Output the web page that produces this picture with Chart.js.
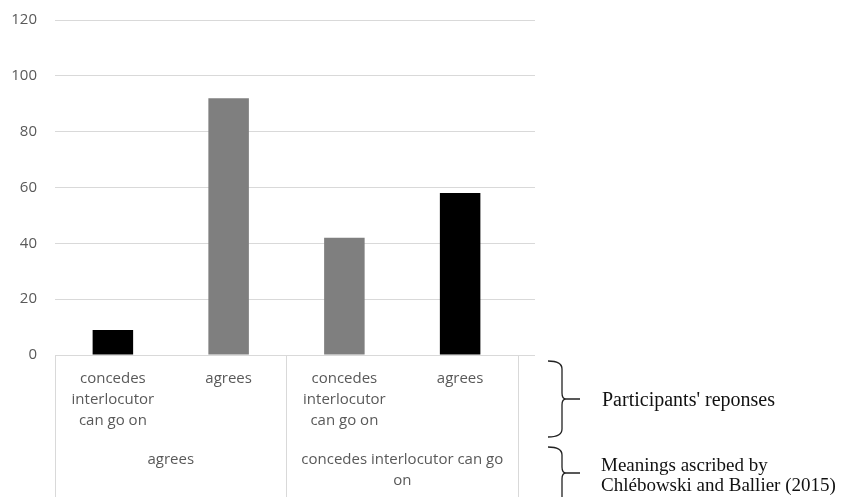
<!DOCTYPE html>
<html>
<head>
<meta charset="utf-8">
<script src="https://cdn.jsdelivr.net/npm/chart.js@4/dist/chart.umd.min.js"></script>
<style>
  html, body { margin: 0; padding: 0; background: #fff; }
  #wrap { width: 841px; height: 497px; position: relative; }
</style>
</head>
<body>
<div id="wrap"><canvas id="chart"></canvas></div>
<script>
// participants' responses (first axis level) and meanings (second level)
const responses = [
  ['concedes', 'interlocutor', 'can go on'],
  ['agrees'],
  ['concedes', 'interlocutor', 'can go on'],
  ['agrees']
];
const meanings = [
  ['agrees'],
  ['concedes interlocutor can go', 'on']
];
const values = [9, 92, 42, 58];
const barColors = ['#000000', '#7f7f7f', '#7f7f7f', '#000000'];
const yTicks = [0, 20, 40, 60, 80, 100, 120];

const gridColor = '#d9d9d9';
const labelColor = '#595959';
const sansFont = { family: '"Open Sans", sans-serif', size: 15, lineHeight: 1.4 };

const align = px => Math.round(px - 0.5) + 0.5;

// draws the category separators, extended gridlines and the braces on the right
const extras = {
  id: 'extras',
  afterDraw(chart) {
    const ctx = chart.ctx;
    const x = chart.scales.x;
    const y = chart.scales.y;
    const area = chart.chartArea;
    const step = x.getPixelForValue(1) - x.getPixelForValue(0);

    ctx.save();
    ctx.strokeStyle = gridColor;
    ctx.lineWidth = 1;
    // gridlines run a little past the last category
    yTicks.forEach(v => {
      const py = align(y.getPixelForValue(v));
      ctx.beginPath();
      ctx.moveTo(area.right, py);
      ctx.lineTo(area.right + 17, py);
      ctx.stroke();
    });
    // separators between the meaning groups
    [0, 2, 4].forEach(i => {
      const px = align(x.getPixelForValue(i) - step / 2);
      ctx.beginPath();
      ctx.moveTo(px, area.bottom);
      ctx.lineTo(px, chart.height);
      ctx.stroke();
    });

    // braces
    ctx.strokeStyle = '#222';
    ctx.lineWidth = 1.3;
    const brace = (top, mid, bottom) => {
      const bx = 548, cx = 562;
      ctx.beginPath();
      ctx.moveTo(bx, top);
      ctx.quadraticCurveTo(cx, top, cx, top + 8);
      ctx.lineTo(cx, mid - 6);
      ctx.quadraticCurveTo(cx, mid, cx + 4, mid);
      ctx.lineTo(580, mid);
      ctx.moveTo(cx + 4, mid);
      ctx.quadraticCurveTo(cx, mid, cx, mid + 6);
      if (bottom !== null) {
        ctx.lineTo(cx, bottom - 8);
        ctx.quadraticCurveTo(cx, bottom, bx, bottom);
      } else {
        ctx.lineTo(cx, chart.height + 2);
      }
      ctx.stroke();
    };
    brace(361, 399, 437);
    brace(447, 473, null);

    ctx.fillStyle = '#111';
    ctx.textBaseline = 'alphabetic';
    ctx.textAlign = 'left';
    ctx.font = '20px "Liberation Serif", "Times New Roman", serif';
    ctx.fillText("Participants' reponses", 602, 406);
    ctx.font = '19px "Liberation Serif", "Times New Roman", serif';
    ctx.fillText('Meanings ascribed by', 601, 471);
    ctx.fillText('Chlébowski and Ballier (2015)', 601, 491);
    ctx.restore();
  }
};

new Chart(document.getElementById('chart'), {
  type: 'bar',
  data: {
    labels: responses,
    datasets: [{
      data: values,
      backgroundColor: barColors,
      borderWidth: 0,
      categoryPercentage: 1,
      barPercentage: 0.35
    }]
  },
  options: {
    responsive: true,
    maintainAspectRatio: false,
    animation: false,
    layout: { padding: { top: 20, right: 323, left: 0, bottom: 0 } },
    plugins: {
      legend: { display: false },
      tooltip: { enabled: false }
    },
    scales: {
      y: {
        min: 0,
        max: 120,
        afterBuildTicks: s => { s.ticks = yTicks.map(v => ({ value: v })); },
        afterFit: s => { s.width = 55; s.paddingTop = 0; s.paddingBottom = 0; },
        ticks: { color: labelColor, font: sansFont, padding: 18 },
        grid: { color: gridColor, drawTicks: false },
        border: { display: false }
      },
      x: {
        afterFit: s => { s.height = 90; },
        ticks: { color: labelColor, font: sansFont, padding: 13, maxRotation: 0, autoSkip: false },
        grid: { display: false, drawTicks: false },
        border: { display: true, color: gridColor }
      },
      x2: {
        type: 'category',
        position: 'bottom',
        labels: meanings,
        afterFit: s => { s.height = 52; },
        ticks: { color: labelColor, font: sansFont, padding: 4, maxRotation: 0, autoSkip: false },
        grid: { display: false, drawTicks: false },
        border: { display: false }
      }
    }
  },
  plugins: [extras]
});
</script>
</body>
</html>
